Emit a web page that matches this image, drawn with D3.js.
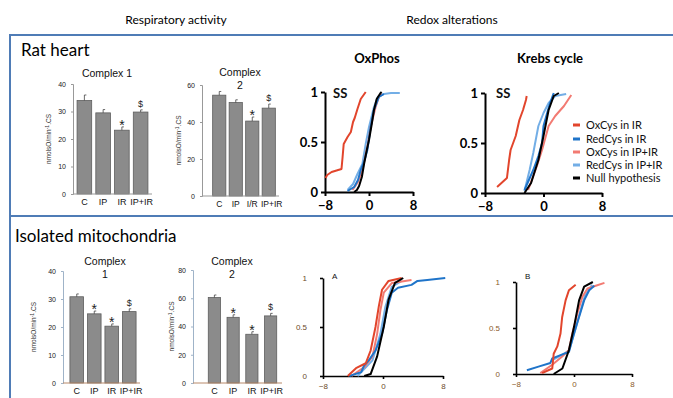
<!DOCTYPE html>
<html><head><meta charset="utf-8">
<script src="https://cdn.jsdelivr.net/npm/d3@7"></script>
<style>
html,body{margin:0;padding:0;background:#fff;}
svg{display:block;}
</style></head>
<body>
<svg id="chart" width="673" height="398"></svg>
<script>
// ---------- DATA ----------
const barCategories = ["C", "IP", "IR", "IP+IR"];
const barCategoriesTop2 = ["C", "IP", "I/R", "IP+IR"];

const ratC1Values = [34, 29.5, 23.2, 29.8];
const ratC1Errors = [2, 1.2, 1.2, 0.8];
const ratC1Marks = ["", "", "*", "$"];
const ratC1Ticks = [0, 10, 20, 30, 40];

const ratC2Values = [54.5, 50.5, 40.5, 47.5];
const ratC2Errors = [2, 1.5, 2.2, 2.2];
const ratC2Marks = ["", "", "*", "$"];
const ratC2Ticks = [0, 20, 40, 60];

const mitoC1Values = [30.8, 24.7, 20.3, 25.5];
const mitoC1Errors = [1, 1, 0.8, 1];
const mitoC1Marks = ["", "*", "*", "$"];
const mitoC1Ticks = [0, 10, 20, 30, 40];

const mitoC2Values = [60.5, 46.5, 34.5, 47.5];
const mitoC2Errors = [1.8, 1.8, 1.8, 1.8];
const mitoC2Marks = ["", "*", "*", "$"];
const mitoC2Ticks = [0, 20, 40, 60, 80];

const cdfXTicks = [-8, 0, 8];
const cdfYTicks = [0, 0.5, 1];
const seriesNames = ["OxCys in IR", "RedCys in IR", "OxCys in IP+IR", "RedCys in IP+IR", "Null hypothesis"];
const seriesColors = ["#e2452c", "#1f74c9", "#f27a72", "#73aee6", "#000000"];

// OxPhos (rat heart)
const oxphosOxCysIR = [[-7.9,0.14],[-7.6,0.17],[-6.8,0.2],[-5.0,0.23],[-4.8,0.35],[-4.6,0.48],[-3.9,0.55],[-3.3,0.6],[-2.9,0.7],[-2.6,0.74],[-2.1,0.83],[-1.5,0.93],[-0.6,1]];
const oxphosRedCysIR = [[-3.9,0.01],[-2.7,0.05],[-2.0,0.12],[-1.5,0.22],[-0.8,0.32],[-0.3,0.42],[0.3,0.65],[0.9,0.82],[1.8,0.95],[2.7,0.98]];
const oxphosOxCysIPIR = [[-3.0,0.02],[-2.0,0.1],[-1.2,0.22],[-0.3,0.45],[0.3,0.65],[1.2,0.85],[1.8,0.95],[2.4,0.98]];
const oxphosRedCysIPIR = [[-3.9,0.02],[-2.9,0.08],[-2.1,0.18],[-1.2,0.28],[-0.6,0.48],[0,0.65],[0.9,0.85],[1.6,0.95],[2.7,0.98],[4.0,0.99],[5.6,0.99]];
const oxphosNull = [[-2.7,0],[-2.2,0.02],[-1.8,0.06],[-1.3,0.15],[-0.9,0.28],[-0.4,0.42],[0,0.52],[0.5,0.68],[0.9,0.82],[1.4,0.93],[2.1,0.99],[2.3,1]];

// Krebs cycle (rat heart)
const krebsOxCysIR = [[-6.35,0.06],[-5.0,0.15],[-4.7,0.33],[-4.5,0.43],[-3.8,0.57],[-3.3,0.73],[-2.8,0.83],[-2.4,0.93],[-2.3,0.97]];
const krebsRedCysIR = [[-2.6,0.03],[-1.4,0.23],[-0.7,0.37],[-0.2,0.5],[0,0.67],[0.5,0.8],[0.9,0.9],[1.4,1]];
const krebsOxCysIPIR = [[-2.1,0.03],[-0.9,0.27],[-0.2,0.43],[0.7,0.67],[1.6,0.77],[2.8,0.87],[3.8,0.98]];
const krebsRedCysIPIR = [[-2.6,0.02],[-1.9,0.23],[-1.4,0.4],[-0.7,0.67],[0,0.8],[0.7,0.9],[1.6,0.97],[3.1,0.99]];
const krebsNull = [[-2.6,0],[-1.7,0.1],[-0.7,0.33],[0,0.57],[0.7,0.83],[1.4,0.97],[2.1,1]];

// Panel A (isolated mitochondria)
const aOxCysIR = [[-4.7,0],[-3.6,0.08],[-2.3,0.13],[-1.65,0.26],[-1,0.5],[-0.56,0.71],[-0.13,0.88],[0.74,0.97],[2.5,1]];
const aRedCysIR = [[-4.5,0],[-2.9,0.04],[-2.5,0.11],[-1.9,0.16],[-1,0.26],[-0.13,0.43],[0.52,0.67],[1.17,0.85],[2.0,0.9],[3.8,0.93],[4.6,0.97],[5.9,0.98],[8.3,1]];
const aOxCysIPIR = [[-4.2,0],[-2.5,0.09],[-1.4,0.2],[-0.78,0.43],[-0.35,0.67],[0.1,0.85],[1.2,0.95],[3.8,0.98]];
const aRedCysIPIR = [[-3.4,0],[-1.4,0.16],[-0.35,0.43],[0.3,0.7],[1.17,0.91],[2.5,0.97]];
const aNull = [[-2.5,0],[-1.65,0.02],[-0.78,0.2],[0.1,0.5],[0.74,0.78],[1.6,0.95],[2.7,1]];

// Panel B (isolated mitochondria)
const bOxCysIR = [[-4.4,0.01],[-3,0.06],[-2.8,0.22],[-2.3,0.3],[-1.86,0.44],[-1.63,0.62],[-1.16,0.8],[-0.7,0.91],[0.23,0.97]];
const bRedCysIR = [[-6.5,0.04],[-4.9,0.08],[-3.26,0.12],[-3,0.17],[-0.7,0.24],[0,0.44],[0.7,0.62],[1.4,0.8],[2.1,0.91],[2.8,0.96]];
const bOxCysIPIR = [[-4.65,0.01],[-3,0.1],[-1.63,0.19],[-0.7,0.26],[-0.23,0.44],[0.47,0.66],[1.16,0.84],[1.86,0.93],[3,0.96],[4.2,0.99]];
const bRedCysIPIR = [[-3,0.15],[-0.7,0.25],[0.1,0.46],[0.8,0.66],[1.5,0.85],[2.5,0.97]];
const bNull = [[-2.8,0],[-1.6,0.06],[-0.7,0.26],[0,0.51],[0.7,0.8],[1.4,0.95],[2.6,1]];

// ---------- DRAWING ----------
const svg = d3.select("#chart");
const sans = "'Liberation Sans', Arial, sans-serif";
const cal = "Lato, 'Open Sans', sans-serif";

// frame
svg.append("rect").attr("x", 10).attr("y", 35).attr("width", 700).attr("height", 420)
  .attr("fill", "none").attr("stroke", "#4f7cb6").attr("stroke-width", 2);
svg.append("line").attr("x1", 10).attr("x2", 673).attr("y1", 216).attr("y2", 216)
  .attr("stroke", "#4f7cb6").attr("stroke-width", 2);

// headers
svg.append("text").attr("x", 176).attr("y", 24).attr("text-anchor", "middle")
  .style("font-family", cal).style("font-size", "12px").text("Respiratory activity");
svg.append("text").attr("x", 452).attr("y", 24).attr("text-anchor", "middle")
  .style("font-family", cal).style("font-size", "12px").text("Redox alterations");
svg.append("text").attr("x", 21).attr("y", 56)
  .style("font-family", cal).style("font-size", "17px").text("Rat heart");
svg.append("text").attr("x", 15).attr("y", 242)
  .style("font-family", cal).style("font-size", "17px").text("Isolated mitochondria");
svg.append("text").attr("x", 377).attr("y", 63).attr("text-anchor", "middle")
  .style("font-family", cal).style("font-weight", "bold").style("font-size", "13px").text("OxPhos");
svg.append("text").attr("x", 550).attr("y", 63).attr("text-anchor", "middle")
  .style("font-family", cal).style("font-weight", "bold").style("font-size", "13px").text("Krebs cycle");

function barChart(o) {
  const g = svg.append("g");
  const x = d3.scaleBand().domain(o.cats).range(o.xr).paddingInner(o.pad).paddingOuter(o.pad / 2);
  const y = d3.scaleLinear().domain([0, o.ticks[o.ticks.length - 1]]).range(o.yr);
  // y axis
  const ya = g.append("g").attr("transform", `translate(${o.ax},0)`)
    .call(d3.axisLeft(y).tickValues(o.ticks).tickSize(2).tickPadding(5));
  ya.select(".domain").attr("stroke", o.yAxisColor);
  ya.selectAll(".tick line").attr("stroke", o.yAxisColor);
  ya.selectAll("text").style("font-family", sans).style("font-size", "7px").attr("fill", "#222");
  // bars
  const vals = o.vals.map((v, i) => ({c: o.cats[i], v, e: o.err[i], m: o.marks[i]}));
  g.selectAll("rect.bar").data(vals).join("rect").attr("class", "bar")
    .attr("x", d => x(d.c)).attr("width", x.bandwidth())
    .attr("y", d => y(d.v)).attr("height", d => y(0) - y(d.v))
    .attr("fill", "#8b8b8b").attr("stroke", "#5e5e5e").attr("stroke-width", 0.8);
  // error bars
  g.selectAll("line.err").data(vals).join("line").attr("class", "err")
    .attr("x1", d => x(d.c) + x.bandwidth() / 2).attr("x2", d => x(d.c) + x.bandwidth() / 2)
    .attr("y1", d => y(d.v)).attr("y2", d => y(d.v + d.e)).attr("stroke", "#444").attr("stroke-width", 0.8);
  g.selectAll("line.cap").data(vals).join("line").attr("class", "cap")
    .attr("x1", d => x(d.c) + x.bandwidth() / 2).attr("x2", d => x(d.c) + x.bandwidth() / 2 + 2)
    .attr("y1", d => y(d.v + d.e)).attr("y2", d => y(d.v + d.e)).attr("stroke", "#444").attr("stroke-width", 0.8);
  // marks
  g.selectAll("text.mark").data(vals.filter(d => d.m)).join("text").attr("class", "mark")
    .attr("x", d => x(d.c) + x.bandwidth() / 2)
    .attr("y", d => y(d.v + d.e) - (d.m === "*" ? -3 : 3))
    .attr("text-anchor", "middle")
    .style("font-family", sans).style("font-size", d => d.m === "*" ? "14px" : "9px")
    .attr("fill", "#222").text(d => d.m);
  // x axis line
  g.append("line").attr("x1", o.ax).attr("x2", o.xr[1] + 2).attr("y1", y(0)).attr("y2", y(0))
    .attr("stroke", o.xAxisColor).attr("stroke-width", 1);
  g.selectAll("text.xl").data(o.cats).join("text").attr("class", "xl")
    .attr("x", (d, i) => x(d) + x.bandwidth() / 2 + (i === 3 ? o.lastShift : 0)).attr("y", y(0) + 11)
    .attr("text-anchor", "middle").style("font-family", sans).style("font-size", o.xfs)
    .attr("fill", "#111").text(d => d);
  // title
  o.title.forEach((t, i) => {
    g.append("text").attr("x", o.tx).attr("y", o.ty + i * 13).attr("text-anchor", "middle")
      .style("font-family", sans).style("font-size", "10.5px").attr("fill", "#111").text(t);
  });
  // y label
  const yl = g.append("text").attr("transform", `translate(${o.lx},${(o.yr[0] + o.yr[1]) / 2}) rotate(-90)`)
    .attr("text-anchor", "middle").style("font-family", sans).style("font-size", "6.5px").attr("fill", "#333");
  yl.append("tspan").text("nmolsO/min");
  yl.append("tspan").attr("dy", -2).style("font-size", "5px").text("-1");
  yl.append("tspan").attr("dy", 2).text(".CS");
}

barChart({cats: barCategories, vals: ratC1Values, err: ratC1Errors, marks: ratC1Marks, ticks: ratC1Ticks,
  xr: [75, 150], yr: [194, 84], ax: 73, pad: 0.22, title: ["Complex 1"], tx: 107, ty: 77, lx: 51,
  yAxisColor: "#999", xAxisColor: "#999", xfs: "9px", lastShift: 1});
barChart({cats: barCategoriesTop2, vals: ratC2Values, err: ratC2Errors, marks: ratC2Marks, ticks: ratC2Ticks,
  xr: [211, 277], yr: [196, 85], ax: 202, pad: 0.2, title: ["Complex", "2"], tx: 240, ty: 76, lx: 181,
  yAxisColor: "#999", xAxisColor: "#999", xfs: "8.5px", lastShift: 3});
barChart({cats: barCategories, vals: mitoC1Values, err: mitoC1Errors, marks: mitoC1Marks, ticks: mitoC1Ticks,
  xr: [68, 138], yr: [383, 271], ax: 63, pad: 0.22, title: ["Complex", "1"], tx: 105, ty: 265, lx: 36,
  yAxisColor: "#9fb3c8", xAxisColor: "#b98a6a", xfs: "9px", lastShift: 2});
barChart({cats: barCategories, vals: mitoC2Values, err: mitoC2Errors, marks: mitoC2Marks, ticks: mitoC2Ticks,
  xr: [205, 280], yr: [383, 270], ax: 193, pad: 0.35, title: ["Complex", "2"], tx: 232, ty: 265, lx: 174,
  yAxisColor: "#9fb3c8", xAxisColor: "#b98a6a", xfs: "9px", lastShift: 1});

function cdfChart(o) {
  const g = svg.append("g");
  const x = d3.scaleLinear().domain([-8, 8]).range(o.xr);
  const y = d3.scaleLinear().domain([0, 1]).range(o.yr);
  const xa = g.append("g").attr("transform", `translate(0,${o.yr[0]})`)
    .call(d3.axisBottom(x).tickValues(cdfXTicks).tickSize(o.tick).tickSizeOuter(0).tickPadding(o.xpad).tickFormat(d3.format("d")));
  const ya = g.append("g").attr("transform", `translate(${o.xr[0]},0)`)
    .call(d3.axisLeft(y).tickValues(cdfYTicks).tickSize(o.tick).tickSizeOuter(0).tickPadding(o.ypad).tickFormat(d => d === 0.5 ? "0.5" : d3.format("d")(d)));
  [xa, ya].forEach(a => {
    a.selectAll(".domain,.tick line").attr("stroke", "#000").attr("stroke-width", o.sw);
    a.selectAll("text").style("font-family", o.font).style("font-size", o.fs)
      .style("font-weight", o.bold ? "bold" : "normal").attr("fill", o.labelColor);
  });
  const line = d3.line().x(d => x(d[0])).y(d => y(d[1]));
  const order = [3, 2, 1, 0, 4];
  order.forEach(i => {
    g.append("path").datum(o.series[i]).attr("d", line).attr("fill", "none")
      .attr("stroke", seriesColors[i]).attr("stroke-width", o.lw).attr("stroke-linejoin", "round");
  });
  if (o.label) {
    g.append("text").attr("x", o.lxp).attr("y", o.lyp).style("font-family", o.font)
      .style("font-weight", o.bold ? "bold" : "normal").style("font-size", o.labelSize).attr("fill", "#111").text(o.label);
  }
}

cdfChart({xr: [325, 413], yr: [192, 92], tick: 4, xpad: 5, ypad: 3, sw: 2, font: cal, fs: "13px", bold: true, labelColor: "#000",
  series: [oxphosOxCysIR, oxphosRedCysIR, oxphosOxCysIPIR, oxphosRedCysIPIR, oxphosNull], lw: 2,
  label: "SS", lxp: 333, lyp: 98, labelSize: "13px"});
cdfChart({xr: [485, 602], yr: [193, 93], tick: 4, xpad: 5, ypad: 3, sw: 2, font: cal, fs: "13px", bold: true, labelColor: "#000",
  series: [krebsOxCysIR, krebsRedCysIR, krebsOxCysIPIR, krebsRedCysIPIR, krebsNull], lw: 2,
  label: "SS", lxp: 496, lyp: 98, labelSize: "13px"});
cdfChart({xr: [323, 443], yr: [376, 278], tick: 3, xpad: 4, ypad: 13, sw: 1.6, font: sans, fs: "8px", bold: false, labelColor: "#6b4a2a",
  series: [aOxCysIR, aRedCysIR, aOxCysIPIR, aRedCysIPIR, aNull], lw: 2,
  label: "A", lxp: 332, lyp: 279, labelSize: "8px"});
cdfChart({xr: [516, 632], yr: [374, 282], tick: 3, xpad: 4, ypad: 13, sw: 1.6, font: sans, fs: "8px", bold: false, labelColor: "#8a5a2a",
  series: [bOxCysIR, bRedCysIR, bOxCysIPIR, bRedCysIPIR, bNull], lw: 2,
  label: "B", lxp: 525, lyp: 279, labelSize: "8px"});

// legend
const legY = [125, 139, 152, 165, 178];
seriesNames.forEach((n, i) => {
  svg.append("line").attr("x1", 573).attr("x2", 580).attr("y1", legY[i]).attr("y2", legY[i])
    .attr("stroke", seriesColors[i]).attr("stroke-width", 3);
  svg.append("text").attr("x", 586).attr("y", legY[i] + 4).style("font-family", cal)
    .style("font-size", "11px").attr("fill", "#111").text(n);
});
</script>
</body></html>
